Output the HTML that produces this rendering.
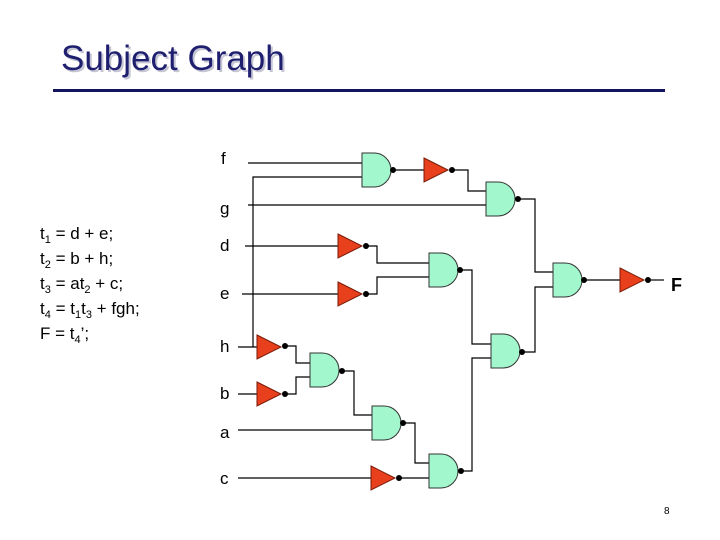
<!DOCTYPE html>
<html><head><style>
body{margin:0;background:#fff;}
svg{display:block}
</style></head><body>
<svg width="720" height="540" viewBox="0 0 720 540" xmlns="http://www.w3.org/2000/svg" font-family="Liberation Sans, Arial, sans-serif">
<defs>
<g id="and"><path d="M0,0 h12 a17,17 0 0 1 0,34 h-12 z" fill="#a2f7cd" stroke="#333" stroke-width="1"/></g>
<g id="inv"><path d="M0,0 L24,12 L0,24 z" fill="#e8401c" stroke="#7a1a08" stroke-width="1"/></g>
</defs>
<text x="63" y="72" font-size="35" fill="#a0a0b8" opacity="0.6">Subject Graph</text>
<text x="61" y="70" font-size="35" fill="#1f1f70">Subject Graph</text>
<rect x="53" y="89" width="612" height="3" fill="#14145e"/>
<g font-size="17" fill="#000">
<text x="40" y="239">t<tspan font-size="11" dy="4">1</tspan><tspan dy="-4"> = d + e;</tspan></text>
<text x="40" y="264">t<tspan font-size="11" dy="4">2</tspan><tspan dy="-4"> = b + h;</tspan></text>
<text x="40" y="289">t<tspan font-size="11" dy="4">3</tspan><tspan dy="-4"> = at</tspan><tspan font-size="11" dy="4">2</tspan><tspan dy="-4"> + c;</tspan></text>
<text x="40" y="314">t<tspan font-size="11" dy="4">4</tspan><tspan dy="-4"> = t</tspan><tspan font-size="11" dy="4">1</tspan><tspan dy="-4">t</tspan><tspan font-size="11" dy="4">3</tspan><tspan dy="-4"> + fgh;</tspan></text>
<text x="40" y="339">F = t<tspan font-size="11" dy="4">4</tspan><tspan dy="-4">’;</tspan></text>
</g>
<g font-size="17" fill="#000">
<text x="221" y="164">f</text>
<text x="220" y="214">g</text>
<text x="220" y="251">d</text>
<text x="220" y="299">e</text>
<text x="220" y="352">h</text>
<text x="220" y="399">b</text>
<text x="220" y="438">a</text>
<text x="220" y="484">c</text>
</g>
<text x="671" y="291" font-size="18" font-weight="bold">F</text>
<text x="664" y="514" font-size="10">8</text>
<g stroke="#000" stroke-width="1.2" fill="none">
<polyline points="248,163 362,163"/>
<polyline points="362,177 253,177 253,347"/>
<polyline points="393,170 424,170"/>
<polyline points="452,170 468,170 468,191 486,191"/>
<polyline points="248,205 486,205"/>
<polyline points="518,199 535,199 535,272 553,272"/>
<polyline points="245,246 338,246"/>
<polyline points="366,246 377,246 377,263 429,263"/>
<polyline points="242,294 338,294"/>
<polyline points="366,294 377,294 377,277 429,277"/>
<polyline points="460,270 472,270 472,344 491,344"/>
<polyline points="461,471 472,471 472,358 491,358"/>
<polyline points="522,352 535,352 535,287 553,287"/>
<polyline points="584,280 620,280"/>
<polyline points="648,280 664,280"/>
<polyline points="238,347 257,347"/>
<polyline points="238,394 257,394"/>
<polyline points="285,346 296,346 296,363 310,363"/>
<polyline points="285,394 296,394 296,377 310,377"/>
<polyline points="342,371 354,371 354,415 372,415"/>
<polyline points="238,430 372,430"/>
<polyline points="403,423 415,423 415,463 429,463"/>
<polyline points="238,478 371,478"/>
<polyline points="399,478 429,478"/>
</g>
<use href="#and" x="362" y="153"/>
<use href="#and" x="486" y="182"/>
<use href="#and" x="429" y="253"/>
<use href="#and" x="553" y="263"/>
<use href="#and" x="491" y="334"/>
<use href="#and" x="310" y="353"/>
<use href="#and" x="372" y="406"/>
<use href="#and" x="429" y="454"/>
<use href="#inv" x="424" y="158"/>
<use href="#inv" x="338" y="234"/>
<use href="#inv" x="338" y="282"/>
<use href="#inv" x="620" y="268"/>
<use href="#inv" x="257" y="335"/>
<use href="#inv" x="257" y="382"/>
<use href="#inv" x="371" y="466"/>
<g fill="#000">
<circle cx="393" cy="170" r="3"/><circle cx="452" cy="170" r="3"/>
<circle cx="518" cy="199" r="3"/><circle cx="366" cy="246" r="3"/>
<circle cx="366" cy="294" r="3"/><circle cx="460" cy="270" r="3"/>
<circle cx="584" cy="280" r="3"/><circle cx="648" cy="280" r="3"/>
<circle cx="522" cy="352" r="3"/><circle cx="285" cy="346" r="3"/>
<circle cx="285" cy="394" r="3"/><circle cx="342" cy="371" r="3"/>
<circle cx="403" cy="423" r="3"/><circle cx="461" cy="471" r="3"/>
<circle cx="399" cy="478" r="3"/>
</g>
</svg>
</body></html>
